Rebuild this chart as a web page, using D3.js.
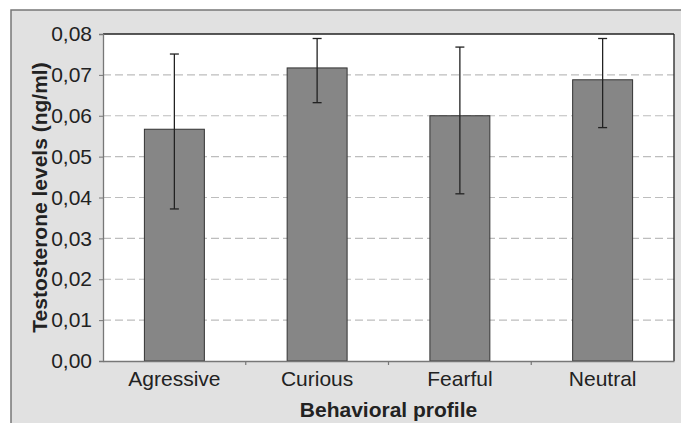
<!DOCTYPE html>
<meta charset="utf-8">
<html>
<head>
<script src="https://d3js.org/d3.v7.min.js"></script>
<style>
  body { margin: 0; background: #fff; }
  svg { font-family: Arial, "Liberation Sans", sans-serif; }
</style>
</head>
<body>
<div id="chart"></div>
<script>
  // data
  const categories = ["Agressive", "Curious", "Fearful", "Neutral"];
  const means = [0.0567, 0.0717, 0.0600, 0.0688];
  const errLow = [0.0372, 0.0632, 0.0409, 0.0571];
  const errHigh = [0.0751, 0.0789, 0.0768, 0.0789];
  const yTicks = [0, 0.01, 0.02, 0.03, 0.04, 0.05, 0.06, 0.07, 0.08];

  const W = 681, H = 423;
  const margin = {top: 34, right: 7, bottom: 62, left: 103};
  const width = W - margin.left - margin.right,
        height = H - margin.top - margin.bottom;
  const FONT = "Arial, 'Liberation Sans', sans-serif";

  const root = d3.select("#chart").append("svg")
    .attr("width", W).attr("height", H);

  // outer grey frame
  root.append("rect")
    .attr("x", 11).attr("y", 10)
    .attr("width", W).attr("height", H)
    .attr("fill", "#e1e1e1")
    .attr("stroke", "#777").attr("stroke-width", 1.5);

  const svg = root.append("g")
    .attr("transform", `translate(${margin.left},${margin.top})`);

  const x = d3.scaleBand().domain(categories).range([0, width]).paddingInner(0.58).paddingOuter(0.29);
  const xb = d3.scaleBand().domain(categories).range([0, width]);
  const y = d3.scaleLinear().domain([0, 0.08]).range([height, 0]);

  svg.append("rect")
    .attr("width", width).attr("height", height)
    .attr("fill", "#fff");

  // gridlines
  svg.selectAll(".grid")
    .data(yTicks.filter(d => d > 0 && d < 0.08))
    .join("line")
      .attr("x1", 0).attr("x2", width)
      .attr("y1", d => y(d)).attr("y2", d => y(d))
      .attr("stroke", "#bdbdbd")
      .attr("stroke-dasharray", "8,4")
      .attr("stroke-width", 1.2);

  // frame of plot area
  svg.append("line").attr("x1", 0).attr("x2", width).attr("y1", 0).attr("y2", 0)
    .attr("stroke", "#222").attr("stroke-width", 1.3);
  svg.append("line").attr("x1", width).attr("x2", width).attr("y1", 0).attr("y2", height)
    .attr("stroke", "#222").attr("stroke-width", 1.3);

  // bars
  svg.selectAll(".bar")
    .data(categories)
    .join("rect")
      .attr("x", d => x(d))
      .attr("y", (d, i) => y(means[i]))
      .attr("width", x.bandwidth())
      .attr("height", (d, i) => height - y(means[i]))
      .attr("fill", "#868686")
      .attr("stroke", "#333")
      .attr("stroke-width", 1);

  // error bars
  const eb = svg.selectAll(".err").data(categories).join("g")
    .attr("transform", d => `translate(${x(d) + x.bandwidth() / 2},0)`)
    .attr("stroke", "#222").attr("stroke-width", 1.3);
  eb.append("line").attr("y1", (d, i) => y(errLow[i])).attr("y2", (d, i) => y(errHigh[i]));
  eb.append("line").attr("x1", -4.5).attr("x2", 4.5)
    .attr("y1", (d, i) => y(errLow[i])).attr("y2", (d, i) => y(errLow[i]));
  eb.append("line").attr("x1", -4.5).attr("x2", 4.5)
    .attr("y1", (d, i) => y(errHigh[i])).attr("y2", (d, i) => y(errHigh[i]));

  // y axis
  const yAxis = svg.append("g")
    .call(d3.axisLeft(y).tickValues(yTicks).tickSize(4).tickPadding(7)
      .tickFormat(d => d3.format(".2f")(d).replace(".", ",")));
  yAxis.attr("font-size", 21).attr("font-family", FONT);
  yAxis.select(".domain").attr("stroke", "#777").attr("stroke-width", 1.3);
  yAxis.selectAll(".tick line").attr("stroke", "#777");
  yAxis.selectAll("text").attr("fill", "#222");

  // x axis
  const xAxis = svg.append("g").attr("transform", `translate(0,${height})`)
    .call(d3.axisBottom(xb).tickSize(0).tickPadding(10));
  xAxis.attr("font-size", 21).attr("font-family", FONT);
  xAxis.select(".domain").attr("stroke", "#777").attr("stroke-width", 1.3);
  xAxis.selectAll("text").attr("fill", "#222");
  xAxis.selectAll(".sep")
    .data(categories.slice(1))
    .join("line")
      .attr("x1", d => xb(d)).attr("x2", d => xb(d))
      .attr("y1", 0).attr("y2", 4)
      .attr("stroke", "#777").attr("stroke-width", 1.2);

  // titles
  root.append("text")
    .attr("transform", `translate(47,${margin.top + height / 2}) rotate(-90)`)
    .attr("text-anchor", "middle")
    .attr("font-size", 21).attr("font-weight", "bold").attr("fill", "#222")
    .text("Testosterone levels (ng/ml)");

  root.append("text")
    .attr("x", margin.left + width / 2).attr("y", 417)
    .attr("text-anchor", "middle")
    .attr("font-size", 21).attr("font-weight", "bold").attr("fill", "#222")
    .text("Behavioral profile");
</script>
</body>
</html>
